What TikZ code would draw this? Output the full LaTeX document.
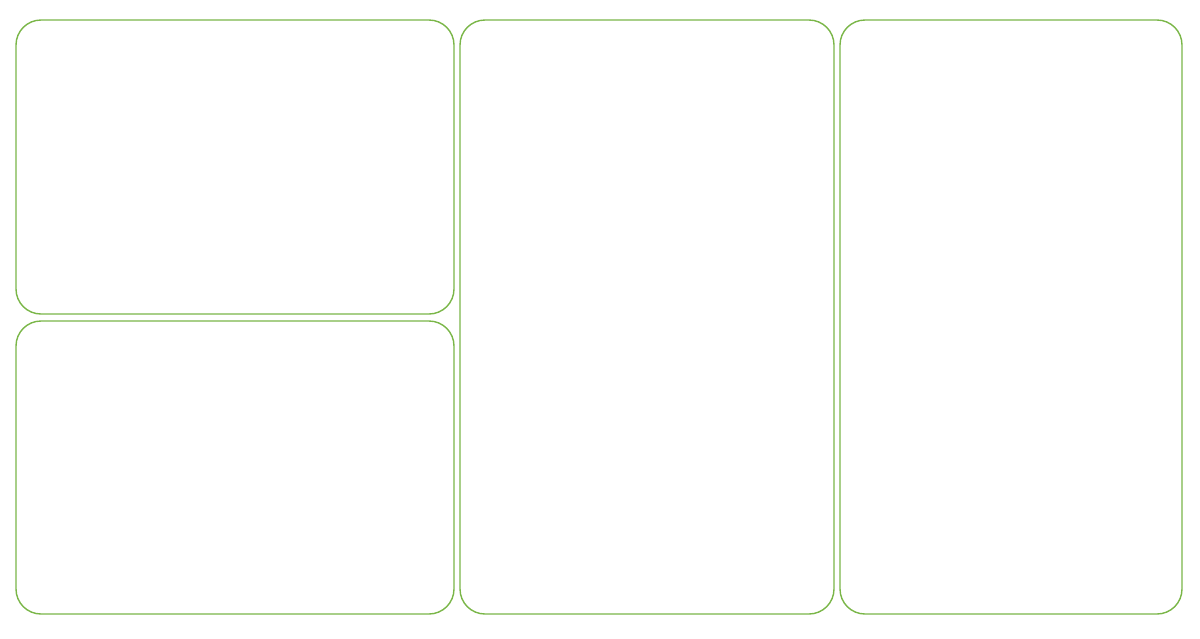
\documentclass[tikz,border=0pt]{standalone}
\begin{document}
\begin{tikzpicture}[x=1pt,y=-1pt,
  panel/.style={draw={rgb,255:red,122;green,182;blue,72},line width=1.4pt,rounded corners=25pt}]
\useasboundingbox (0,0) rectangle (1200,638);
\draw[panel] (16,20) rectangle (454,314);
\draw[panel] (16,321) rectangle (454,614);
\draw[panel] (460,20) rectangle (834,614);
\draw[panel] (840,20) rectangle (1182,614);
\end{tikzpicture}
\end{document}
